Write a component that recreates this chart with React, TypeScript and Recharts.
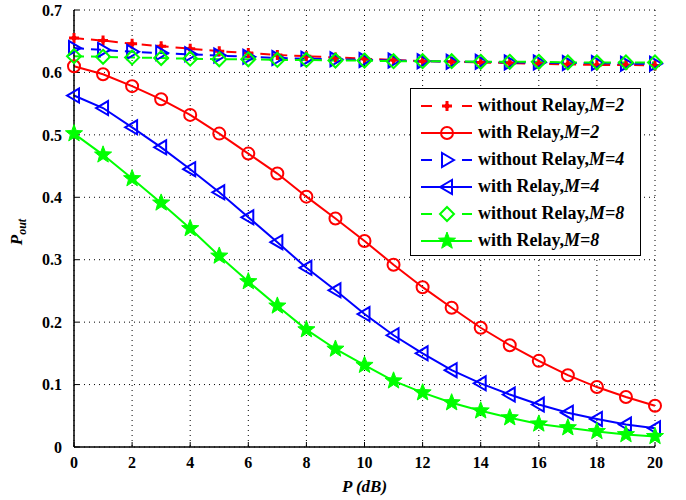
import { LineChart, Line, XAxis, YAxis, CartesianGrid } from 'recharts';

const pdb = [0, 1, 2, 3, 4, 5, 6, 7, 8, 9, 10, 11, 12, 13, 14, 15, 16, 17, 18, 19, 20];

const noRelayM2 = [0.655, 0.651, 0.646, 0.642, 0.638, 0.634, 0.631, 0.628, 0.626, 0.624, 0.622, 0.620, 0.618, 0.617, 0.616, 0.615, 0.614, 0.613, 0.612, 0.612, 0.611];
const relayM2 = [0.610, 0.597, 0.578, 0.557, 0.532, 0.502, 0.470, 0.438, 0.401, 0.366, 0.330, 0.292, 0.256, 0.223, 0.191, 0.163, 0.138, 0.115, 0.096, 0.080, 0.066];
const noRelayM4 = [0.639, 0.636, 0.633, 0.631, 0.629, 0.627, 0.625, 0.623, 0.622, 0.621, 0.620, 0.619, 0.618, 0.617, 0.617, 0.616, 0.616, 0.615, 0.615, 0.614, 0.614];
const relayM4 = [0.563, 0.543, 0.512, 0.480, 0.445, 0.408, 0.368, 0.328, 0.287, 0.251, 0.213, 0.179, 0.150, 0.123, 0.102, 0.084, 0.068, 0.055, 0.045, 0.036, 0.030];
const noRelayM8 = [0.626, 0.625, 0.624, 0.623, 0.622, 0.621, 0.621, 0.620, 0.620, 0.619, 0.619, 0.618, 0.618, 0.618, 0.617, 0.617, 0.617, 0.616, 0.616, 0.616, 0.616];
const relayM8 = [0.502, 0.468, 0.430, 0.391, 0.350, 0.306, 0.265, 0.226, 0.188, 0.157, 0.131, 0.106, 0.087, 0.071, 0.058, 0.047, 0.037, 0.031, 0.025, 0.020, 0.017];

const xTicks = [0, 2, 4, 6, 8, 10, 12, 14, 16, 18, 20];
const yTicks = [0, 0.1, 0.2, 0.3, 0.4, 0.5, 0.6, 0.7];

const data = pdb.map((p, i) => ({
  p,
  nr2: noRelayM2[i],
  r2: relayM2[i],
  nr4: noRelayM4[i],
  r4: relayM4[i],
  nr8: noRelayM8[i],
  r8: relayM8[i],
}));

const FONT = "'Liberation Serif'";
const RED = '#ff0000';
const BLUE = '#0000ff';
const GREEN = '#00ff00';

type Kind = 'plus' | 'circle' | 'tright' | 'tleft' | 'diamond' | 'star';

function Marker({ cx, cy, kind, color }: { cx: number; cy: number; kind: Kind; color: string }) {
  if (cx == null || cy == null) return null;
  if (kind === 'plus') {
    return (
      <g>
        <path d={`M${cx - 5},${cy} L${cx + 5},${cy} M${cx},${cy - 5} L${cx},${cy + 5}`} stroke={color} strokeWidth={3} />
        <circle cx={cx} cy={cy} r={2.5} fill={color} />
      </g>
    );
  }
  if (kind === 'circle') {
    return <circle cx={cx} cy={cy} r={6} fill="none" stroke={color} strokeWidth={2} />;
  }
  if (kind === 'tright') {
    return <polygon points={`${cx + 7},${cy} ${cx - 5},${cy - 7} ${cx - 5},${cy + 7}`} fill="none" stroke={color} strokeWidth={2} />;
  }
  if (kind === 'tleft') {
    return <polygon points={`${cx - 7},${cy} ${cx + 5},${cy - 7} ${cx + 5},${cy + 7}`} fill="none" stroke={color} strokeWidth={2} />;
  }
  if (kind === 'diamond') {
    return <polygon points={`${cx},${cy - 7} ${cx + 7},${cy} ${cx},${cy + 7} ${cx - 7},${cy}`} fill="none" stroke={color} strokeWidth={2} />;
  }
  // five-point star
  const pts: string[] = [];
  for (let k = 0; k < 10; k++) {
    const r = k % 2 === 0 ? 9 : 3.8;
    const a = -Math.PI / 2 + (k * Math.PI) / 5;
    pts.push(`${cx + r * Math.cos(a)},${cy + r * Math.sin(a)}`);
  }
  return <polygon points={pts.join(' ')} fill={color} stroke={color} strokeWidth={1} />;
}

const series = [
  { key: 'nr2', label: 'without Relay,', m: 'M=2', color: RED, dashed: true, kind: 'plus' as Kind },
  { key: 'r2', label: 'with Relay,', m: 'M=2', color: RED, dashed: false, kind: 'circle' as Kind },
  { key: 'nr4', label: 'without Relay,', m: 'M=4', color: BLUE, dashed: true, kind: 'tright' as Kind },
  { key: 'r4', label: 'with Relay,', m: 'M=4', color: BLUE, dashed: false, kind: 'tleft' as Kind },
  { key: 'nr8', label: 'without Relay,', m: 'M=8', color: GREEN, dashed: true, kind: 'diamond' as Kind },
  { key: 'r8', label: 'with Relay,', m: 'M=8', color: GREEN, dashed: false, kind: 'star' as Kind },
];

const LegendBox = () => (
  <div
    style={{
      position: 'absolute',
      left: 410,
      top: 88,
      width: 231,
      height: 168,
      border: '1px solid #000',
      background: '#fff',
      boxSizing: 'border-box',
      padding: '3px 0 0 8px',
      fontFamily: FONT,
      fontWeight: 'bold',
      fontSize: 18,
    }}
  >
    {series.map((s) => (
      <div key={s.key} style={{ display: 'flex', alignItems: 'center', height: 27 }}>
        <svg width={55} height={20} style={{ marginRight: 4, flexShrink: 0 }}>
          {s.dashed ? (
            <path d="M2,10 L13,10 M43,10 L53,10" stroke={s.color} strokeWidth={2} />
          ) : (
            <line x1={2} y1={10} x2={53} y2={10} stroke={s.color} strokeWidth={2} />
          )}
          <Marker cx={28} cy={10} kind={s.kind} color={s.color} />
        </svg>
        <span style={{ whiteSpace: 'nowrap' }}>
          {s.label}
          <i>{s.m}</i>
        </span>
      </div>
    ))}
  </div>
);

const YLabel = () => (
  <text x={22} y={232} transform="rotate(-90 22 232)" textAnchor="middle" fontFamily={FONT} fontWeight="bold" fontStyle="italic" fontSize={17} fill="#000">
    P<tspan fontSize={12} dy={4}>out</tspan>
  </text>
);

const tickStyle = { fill: '#000', fontFamily: FONT, fontWeight: 'bold', fontSize: 16 };
const frame = { stroke: '#000', strokeWidth: 1.5 };

export default function App() {
  return (
    <div style={{ position: 'absolute', left: 0, top: 0, width: 686, height: 500, background: '#fff' }}>
      <LineChart width={686} height={500} data={data} margin={{ top: 10, right: 31, left: 0, bottom: 0 }}>
        <CartesianGrid stroke="#000" strokeDasharray="1 4" strokeWidth={1} />
        <XAxis
          dataKey="p"
          type="number"
          domain={[0, 20]}
          ticks={xTicks}
          interval={0}
          height={53}
          axisLine={frame}
          tickLine={{ stroke: '#000' }}
          tickSize={-5}
          tickMargin={15}
          tick={tickStyle}
          label={{ value: 'P (dB)', position: 'insideBottom', offset: 8, fill: '#000', fontFamily: FONT, fontWeight: 'bold', fontStyle: 'italic', fontSize: 17 }}
        />
        <XAxis xAxisId="top" orientation="top" dataKey="p" type="number" domain={[0, 20]} ticks={xTicks} height={0} tick={false} tickLine={{ stroke: '#000' }} tickSize={-5} axisLine={frame} />
        <YAxis
          type="number"
          domain={[0, 0.7]}
          ticks={yTicks}
          interval={0}
          width={74}
          axisLine={frame}
          tickLine={{ stroke: '#000' }}
          tickSize={-5}
          tickMargin={17}
          tickFormatter={(v: number) => (v === 0 ? '0' : String(Number(v.toFixed(1))))}
          tick={tickStyle}
          label={<YLabel />}
        />
        <YAxis yAxisId="right" orientation="right" domain={[0, 0.7]} ticks={yTicks} width={0} tick={false} tickLine={{ stroke: '#000' }} tickSize={-5} axisLine={frame} />
        {series.map((s) => (
          <Line
            key={s.key}
            dataKey={s.key}
            stroke={s.color}
            strokeWidth={2}
            strokeDasharray={s.dashed ? '10 7' : undefined}
            type="linear"
            isAnimationActive={false}
            dot={(props: any) => <Marker key={`${s.key}-${props.index}`} cx={props.cx} cy={props.cy} kind={s.kind} color={s.color} />}
            activeDot={false}
          />
        ))}
      </LineChart>
      <LegendBox />
    </div>
  );
}
